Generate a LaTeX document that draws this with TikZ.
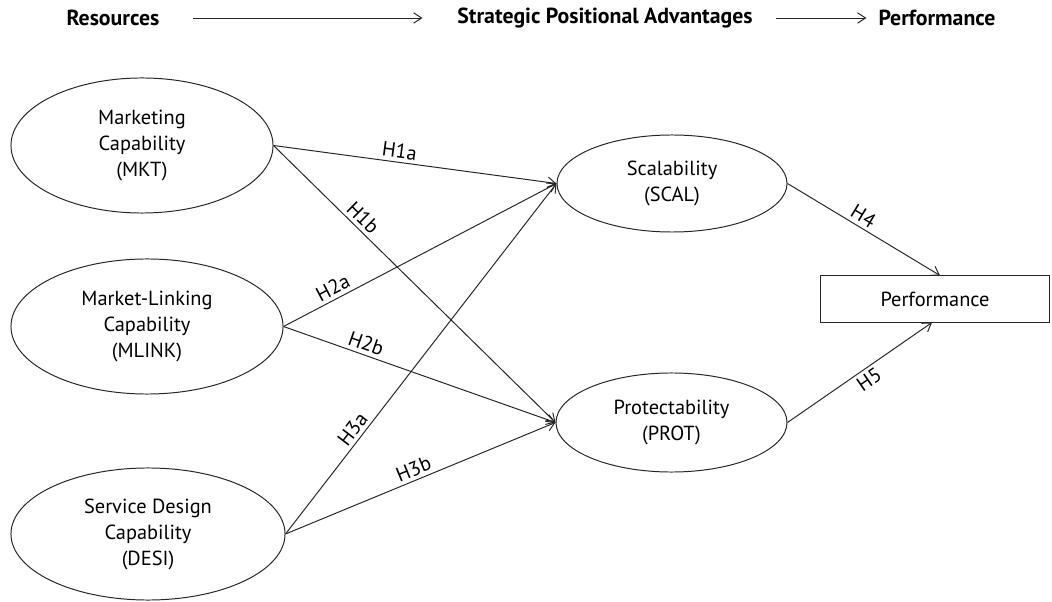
\documentclass[tikz,border=0pt]{standalone}
\usepackage{fontspec}
\setmainfont{PT Sans}
\usetikzlibrary{arrows.meta,calc,shapes.geometric}
\tikzset{
  lv/.style={ellipse,draw=black!85,fill=white,line width=.7pt,align=center,inner sep=0pt,font=\fontsize{14.5}{18.5}\selectfont},
  pf/.style={rectangle,draw=black!85,fill=white,line width=.7pt,minimum width=5.7cm,minimum height=1.15cm,inner sep=0pt,font=\fontsize{14.5}{17}\selectfont},
  hd/.style={font=\fontsize{15.5}{18}\selectfont\bfseries,inner sep=1pt},
  hyp/.style={-{Straight Barb[length=2mm,width=2.6mm]},line width=.7pt,draw=black!85},
  flow/.style={-{Straight Barb[length=2mm,width=2.6mm]},line width=.7pt,draw=black!85},
  hl/.style={font=\fontsize{14.5}{17}\selectfont,sloped,inner sep=2.5pt},
}
\begin{document}
\begin{tikzpicture}[x=0.025cm,y=-0.025cm]
\useasboundingbox (0,0) rectangle (1052,602);
% header: resources -> positional advantages -> performance
\node[hd] (res) at (113,18) {Resources};
\node[hd] (spa) at (605,18) {Strategic Positional Advantages};
\node[hd] (perfh) at (937,18) {Performance};
\draw[flow,shorten <=0.8cm,shorten >=0.83cm] (res.east) -- (spa.west);
\draw[flow,shorten <=0.53cm,shorten >=0.26cm] (spa.east) -- (perfh.west);
% resources
\node[lv,minimum width=6.55cm,minimum height=3.375cm] (mkt) at (142,145.5) {Marketing\\Capability\\(MKT)};
\node[lv,minimum width=6.8cm,minimum height=3.375cm] (mlink) at (147,326.5) {Market-Linking\\Capability\\(MLINK)};
\node[lv,minimum width=6.85cm,minimum height=3.3cm] (desi) at (148,534) {Service Design\\Capability\\(DESI)};
% positional advantages
\node[lv,minimum width=5.75cm,minimum height=2.425cm] (scal) at (672,183.5) {Scalability\\(SCAL)};
\node[lv,minimum width=5.775cm,minimum height=2.475cm] (prot) at (671.5,422.5) {Protectability\\(PROT)};
\node[pf] (perf) at (935,299) {Performance};
% hypotheses
\draw[hyp] (mkt.east) -- node[hl,pos=.44,above] {H1a} (scal.west);
\draw[hyp] (mkt.east) -- node[hl,pos=.29,above] {H1b} (prot.west);
\draw[hyp] (mlink.east) -- node[hl,pos=.2,above] {H2a} (scal.west);
\draw[hyp] (mlink.east) -- node[hl,pos=.29,above] {H2b} (prot.west);
\draw[hyp] (desi.east) -- node[hl,pos=.28,above] {H3a} (scal.west);
\draw[hyp] (desi.east) -- node[hl,pos=.49,above] {H3b} (prot.west);
\draw[hyp] (scal.east) -- node[hl,pos=.46,above] {H4} ($(perf.north)+(5,0)$);
\draw[hyp] (prot.east) -- node[hl,pos=.52,below] {H5} ($(perf.south)+(-3,0)$);
\end{tikzpicture}
\end{document}
